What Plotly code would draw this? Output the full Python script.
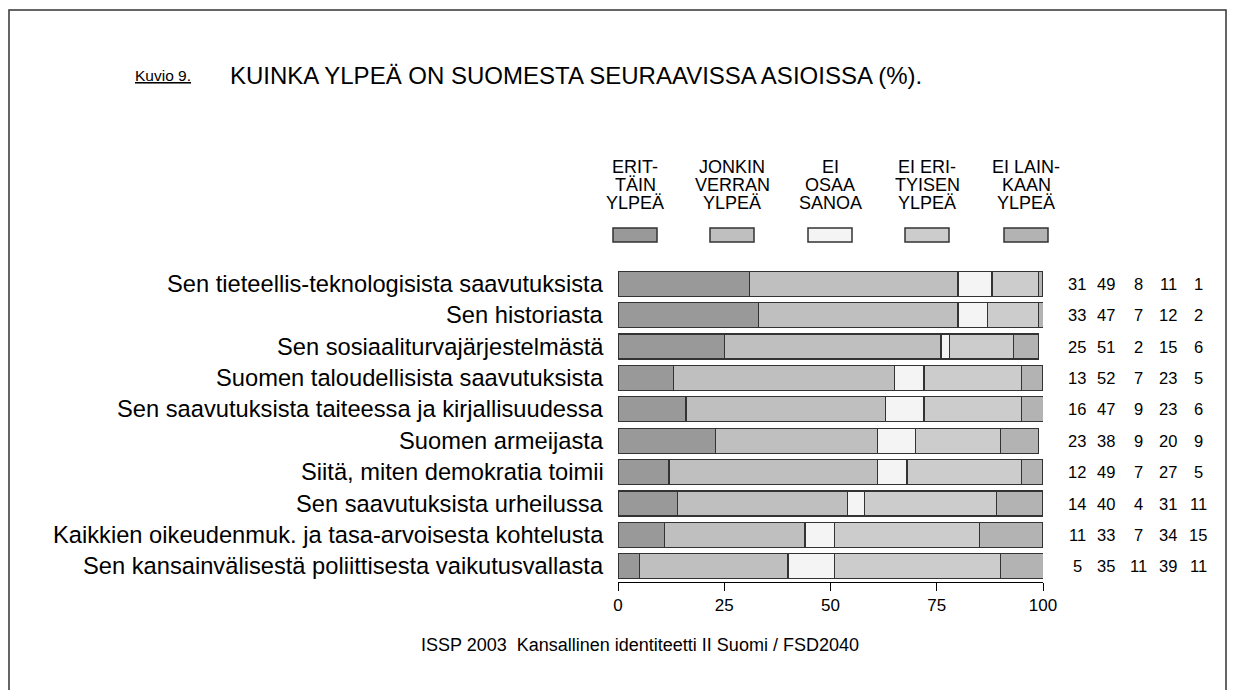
import plotly.graph_objects as go

FONT = "Arial, Liberation Sans, sans-serif"

categories = [
    "Sen tieteellis-teknologisista saavutuksista",
    "Sen historiasta",
    "Sen sosiaaliturvajärjestelmästä",
    "Suomen taloudellisista saavutuksista",
    "Sen saavutuksista taiteessa ja kirjallisuudessa",
    "Suomen armeijasta",
    "Siitä, miten demokratia toimii",
    "Sen saavutuksista urheilussa",
    "Kaikkien oikeudenmuk. ja tasa-arvoisesta kohtelusta",
    "Sen kansainvälisestä poliittisesta vaikutusvallasta",
]
eritain = [31, 33, 25, 13, 16, 23, 12, 14, 11, 5]
jonkin = [49, 47, 51, 52, 47, 38, 49, 40, 33, 35]
ei_osaa = [8, 7, 2, 7, 9, 9, 7, 4, 7, 11]
ei_erityisen = [11, 12, 15, 23, 23, 20, 27, 31, 34, 39]
ei_lainkaan = [1, 2, 6, 5, 6, 9, 5, 11, 15, 11]

series = [eritain, jonkin, ei_osaa, ei_erityisen, ei_lainkaan]
series_names = [
    ["ERIT-", "TÄIN", "YLPEÄ"],
    ["JONKIN", "VERRAN", "YLPEÄ"],
    ["EI", "OSAA", "SANOA"],
    ["EI ERI-", "TYISEN", "YLPEÄ"],
    ["EI LAIN-", "KAAN", "YLPEÄ"],
]
colors = ["#999999", "#bfbfbf", "#f4f4f4", "#cccccc", "#b3b3b3"]
axis_ticks = [0, 25, 50, 75, 100]

# the page body adds an 8px margin round the figure; keep it small enough
# that the page does not scroll or clip
OFF = 8
W, H = 1235 - 2 * OFF, 698 - 2 * OFF
# plot area in screen pixels: x 618..1043, y 268..582
L, R, T, B = 618 - OFF, 1043 - OFF, 268 - OFF, 582 - OFF


def px(x):
    return (x - OFF - L) / (R - L)


def py(y):
    return (B - (y - OFF)) / (B - T)


fig = go.Figure()
for vals, names, col in zip(series, series_names, colors):
    fig.add_trace(go.Bar(y=categories, x=vals, orientation="h", name=" ".join(names),
                         marker=dict(color=col, line=dict(color="#333333", width=1.2)),
                         width=0.8, showlegend=False))

annotations = []
shapes = []

# category labels
for cat in categories:
    annotations.append(dict(xref="paper", yref="y", x=0, y=cat, xshift=-12, text=cat,
                            showarrow=False, xanchor="right", yanchor="middle",
                            font=dict(size=23.7, color="black", family=FONT)))

# value columns on the right
col_x = [1077, 1106, 1138, 1168, 1198]
for vals, cx in zip(series, col_x):
    for cat, v in zip(categories, vals):
        annotations.append(dict(xref="paper", yref="y", x=px(cx), y=cat, text=str(v),
                                showarrow=False, xanchor="center", yanchor="middle",
                                font=dict(size=16.5, color="black", family=FONT)))

# legend
leg_x = [635, 732, 830, 927, 1026]
line_y = [167, 185, 203]
for names, col, cx in zip(series_names, colors, leg_x):
    for name, ly in zip(names, line_y):
        annotations.append(dict(xref="paper", yref="paper", x=px(cx), y=py(ly), text=name,
                                showarrow=False, xanchor="center", yanchor="middle",
                                font=dict(size=18, color="black", family=FONT)))
    shapes.append(dict(type="rect", xref="paper", yref="paper",
                       x0=px(cx - 22), x1=px(cx + 22), y0=py(242), y1=py(228),
                       fillcolor=col, line=dict(color="#333333", width=1.5)))

# title and source
annotations.append(dict(xref="paper", yref="paper", x=px(133), y=py(76), text="<u>Kuvio 9.</u>",
                        showarrow=False, xanchor="left", yanchor="middle",
                        font=dict(size=15.5, color="black", family=FONT)))
annotations.append(dict(xref="paper", yref="paper", x=px(228), y=py(75),
                        text="KUINKA YLPEÄ ON SUOMESTA SEURAAVISSA ASIOISSA (%).",
                        showarrow=False, xanchor="left", yanchor="middle",
                        font=dict(size=24, color="black", family=FONT)))
annotations.append(dict(xref="paper", yref="paper", x=px(640), y=py(645),
                        text="ISSP 2003  Kansallinen identiteetti II Suomi / FSD2040",
                        showarrow=False, xanchor="center", yanchor="middle",
                        font=dict(size=18, color="black", family=FONT)))

# outer frame, open at the bottom
shapes.append(dict(type="rect", xref="paper", yref="paper",
                   x0=px(9), x1=px(1226), y0=py(720), y1=py(10),
                   line=dict(color="#333333", width=1.5), fillcolor="rgba(0,0,0,0)", layer="below"))

fig.update_layout(
    barmode="stack",
    width=W, height=H,
    margin=dict(l=L, r=W - R, t=T, b=H - B),
    paper_bgcolor="white", plot_bgcolor="white",
    bargap=0.2,
    annotations=annotations,
    shapes=shapes,
    font=dict(family=FONT, color="black"),
    xaxis=dict(range=[0, 100], tickvals=axis_ticks, ticks="outside", ticklen=8,
               tickcolor="black", showline=True, linecolor="black", linewidth=1,
               showgrid=False, zeroline=False, tickfont=dict(size=17, color="black")),
    yaxis=dict(categoryorder="array", categoryarray=categories, autorange="reversed",
               showticklabels=False, showgrid=False, zeroline=False, showline=False),
)

fig.write_html("out.html")
